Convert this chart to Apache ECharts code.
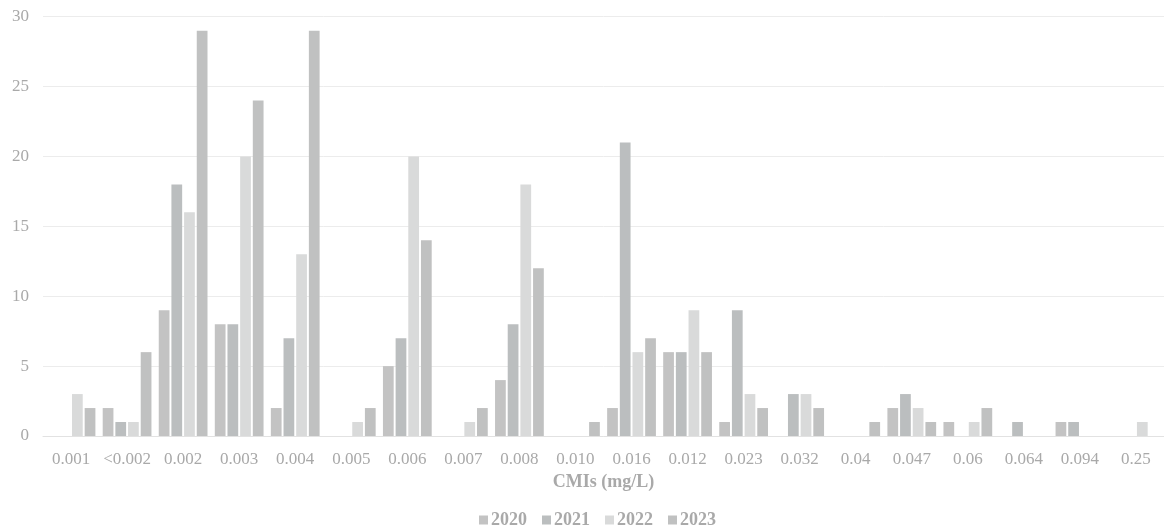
<!DOCTYPE html>
<html>
<head>
<meta charset="utf-8">
<title>CMIs distribution</title>
<script src="https://cdn.jsdelivr.net/npm/echarts@6/dist/echarts.min.js"></script>
<style>
  html, body { margin: 0; padding: 0; background: #ffffff; }
  #chart { width: 1164px; height: 528px; }
</style>
</head>
<body>
<div id="chart"></div>
<script>
// MIC categories along the x axis
const categories = ['0.001', '<0.002', '0.002', '0.003', '0.004', '0.005', '0.006', '0.007', '0.008', '0.010',
  '0.016', '0.012', '0.023', '0.032', '0.04', '0.047', '0.06', '0.064', '0.094', '0.25'];

// Isolate counts per year
const y2020 = [0, 2, 9, 8, 2, 0, 5, 0, 4, 0, 2, 6, 1, 0, 0, 2, 1, 0, 1, 0];
const y2021 = [0, 1, 18, 8, 7, 0, 7, 0, 8, 0, 21, 6, 9, 3, 0, 3, 0, 1, 1, 0];
const y2022 = [3, 1, 16, 20, 13, 1, 20, 1, 18, 0, 6, 9, 3, 3, 0, 2, 1, 0, 0, 1];
const y2023 = [2, 6, 29, 24, 29, 2, 14, 2, 12, 1, 7, 6, 2, 2, 1, 1, 2, 0, 0, 0];

const yTicks = [0, 5, 10, 15, 20, 25, 30];

const seriesDefs = [
  { name: '2020', data: y2020, color: '#c3c3c3' },
  { name: '2021', data: y2021, color: '#bbbebf' },
  { name: '2022', data: y2022, color: '#d9dada' },
  { name: '2023', data: y2023, color: '#c0c1c1' }
];

const textFont = '"Liberation Serif", "Times New Roman", serif';
const textColor = '#a9a9a9';

const chart = echarts.init(document.getElementById('chart'), null, { renderer: 'canvas' });

chart.setOption({
  animation: false,
  backgroundColor: '#ffffff',
  grid: { left: 43, right: -9, top: 16.7, bottom: 92, containLabel: false },
  legend: {
    top: 511,
    left: 479,
    padding: 0,
    itemWidth: 9,
    itemHeight: 9,
    itemGap: 15,
    icon: 'rect',
    textStyle: { fontFamily: textFont, fontWeight: 'bold', fontSize: 18, color: textColor, padding: [0, 0, 0, -2] },
    data: seriesDefs.map(s => s.name)
  },
  xAxis: {
    type: 'category',
    data: categories,
    name: 'CMIs (mg/L)',
    nameLocation: 'middle',
    nameGap: 32,
    nameTextStyle: { fontFamily: textFont, fontWeight: 'bold', fontSize: 18, color: textColor },
    axisLine: { show: true, lineStyle: { color: '#e2e2e2', width: 1 } },
    axisTick: { show: false },
    axisLabel: { fontFamily: textFont, fontSize: 17, color: textColor, margin: 15, interval: 0 }
  },
  yAxis: {
    type: 'value',
    min: yTicks[0],
    max: yTicks[yTicks.length - 1],
    interval: 5,
    axisLine: { show: false },
    axisTick: { show: false },
    axisLabel: { fontFamily: textFont, fontSize: 17, color: textColor, margin: 14 },
    splitLine: { lineStyle: { color: '#ececec', width: 1 } }
  },
  series: seriesDefs.map(s => ({
    name: s.name,
    type: 'bar',
    data: s.data,
    barGap: '18%',
    barCategoryGap: '13%',
    itemStyle: { color: s.color },
    emphasis: { disabled: true }
  }))
});
</script>
</body>
</html>
